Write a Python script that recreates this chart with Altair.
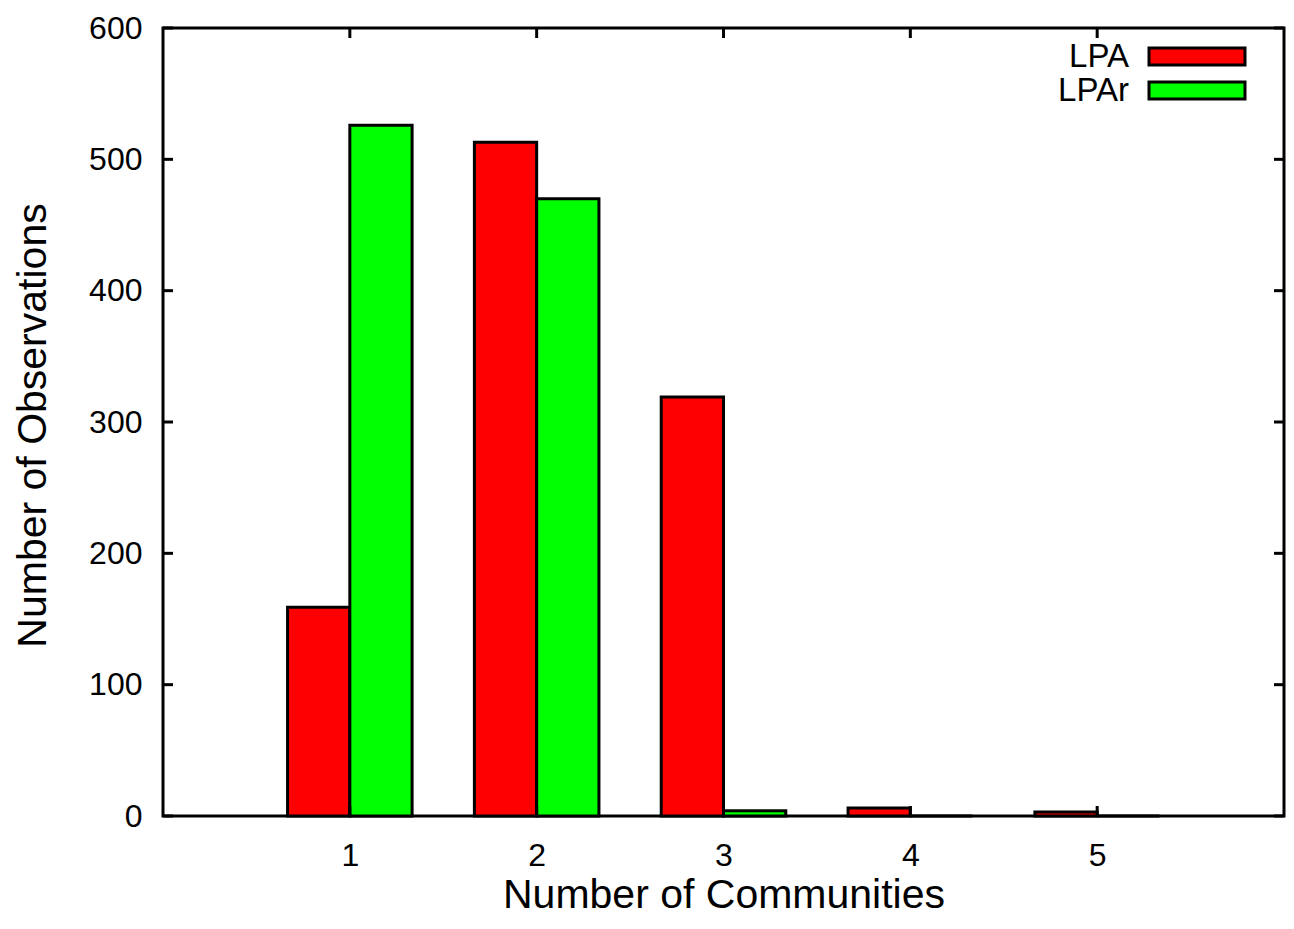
import altair as alt
import pandas as pd

# ---- data ----
categories = [1, 2, 3, 4, 5]
lpa = [159, 513, 319, 6, 3]
lpar = [526, 470, 4, 0, 0]
series = ["LPA", "LPAr"]
colors = ["#ff0000", "#00ff00"]
y_ticks = [0, 100, 200, 300, 400, 500, 600]
x_ticks = [1, 2, 3, 4, 5]

BAR_W = 1.0 / 3.0
rows = []
for c, a, b in zip(categories, lpa, lpar):
    rows.append({"cat": c, "series": "LPA", "count": a, "x0": c - BAR_W, "x1": c})
    rows.append({"cat": c, "series": "LPAr", "count": b, "x0": c, "x1": c + BAR_W})
df = pd.DataFrame(rows)

W, H = 1121, 788
FONT = "Liberation Sans"

xscale = alt.Scale(domain=[0, 6], nice=False, zero=False)
yscale = alt.Scale(domain=[0, 600], nice=False)
cscale = alt.Scale(domain=series, range=colors)

xaxis = alt.Axis(values=x_ticks, format="d", grid=False, domain=False,
                 ticks=False, tickSize=0, labelPadding=24,
                 labelFontSize=32, labelFont=FONT, labelColor="black",
                 title="Number of Communities", titleFont=FONT,
                 titleFontSize=41, titleFontWeight="normal",
                 titleColor="black", titleBaseline="alphabetic",
                 titleX=W / 2, titleY=91)
yaxis = alt.Axis(values=y_ticks, format="d", grid=False, domain=False,
                 ticks=False, tickSize=0, labelPadding=21,
                 labelFontSize=32, labelFont=FONT, labelColor="black",
                 title="Number of Observations", titleFont=FONT,
                 titleFontSize=41, titleFontWeight="normal",
                 titleColor="black", titleBaseline="alphabetic",
                 titleAngle=270, titleX=-118, titleY=H / 2 + 3)

bars = alt.Chart(df).mark_rect(stroke="black", strokeWidth=3, opacity=1).encode(
    x=alt.X("x0:Q", scale=xscale, axis=xaxis),
    x2="x1:Q",
    y=alt.Y("count:Q", scale=yscale, axis=yaxis),
    y2=alt.datum(0),
    color=alt.Color("series:N", scale=cscale, legend=None),
)

ydf = pd.DataFrame({"v": y_ticks})
xdf = pd.DataFrame({"v": x_ticks})
TL = 10
left_ticks = alt.Chart(ydf).mark_rule(color="black", strokeWidth=3).encode(
    y=alt.Y("v:Q", scale=yscale, axis=yaxis), x=alt.value(0), x2=alt.value(TL))
right_ticks = alt.Chart(ydf).mark_rule(color="black", strokeWidth=3).encode(
    y=alt.Y("v:Q", scale=yscale, axis=yaxis), x=alt.value(W - TL), x2=alt.value(W))
top_ticks = alt.Chart(xdf).mark_rule(color="black", strokeWidth=3).encode(
    x=alt.X("v:Q", scale=xscale, axis=xaxis), y=alt.value(0), y2=alt.value(TL))
bottom_ticks = alt.Chart(xdf).mark_rule(color="black", strokeWidth=3).encode(
    x=alt.X("v:Q", scale=xscale, axis=xaxis), y=alt.value(H - TL), y2=alt.value(H))

main = alt.layer(bars, left_ticks, right_ticks, top_ticks, bottom_ticks)

# ---- legend (label left of swatch, as in the reference) ----
ldf = pd.DataFrame({"series": series, "row": [0, 1]})
lscale = alt.Scale(domain=[0, 1], range=[28.5, 62.5])
swatch = alt.Chart(ldf).mark_point(
    shape="M-1,-0.177L1,-0.177L1,0.177L-1,0.177Z", size=96 * 96, filled=True,
    stroke="black", strokeWidth=3, opacity=1
).encode(
    x=alt.value(W - 87),
    y=alt.Y("row:Q", scale=lscale, axis=None),
    fill=alt.Fill("series:N", scale=cscale, legend=None),
)
labels = alt.Chart(ldf).mark_text(
    align="right", baseline="middle", fontSize=33, font=FONT, color="black"
).encode(
    x=alt.value(W - 155),
    y=alt.Y("row:Q", scale=lscale, axis=None),
    text="series:N",
)
legend = alt.layer(swatch, labels)

chart = alt.layer(main, legend).resolve_scale(
    y="independent", color="independent", fill="independent"
).properties(
    width=W, height=H,
    background="white",
    autosize=alt.AutoSizeParams(type="none"),
    padding={"left": 155, "top": 20, "right": 2, "bottom": 100},
).configure_view(
    stroke="black", strokeWidth=3
)

chart.save("out.html", embed_options={"renderer": "svg", "actions": False})
